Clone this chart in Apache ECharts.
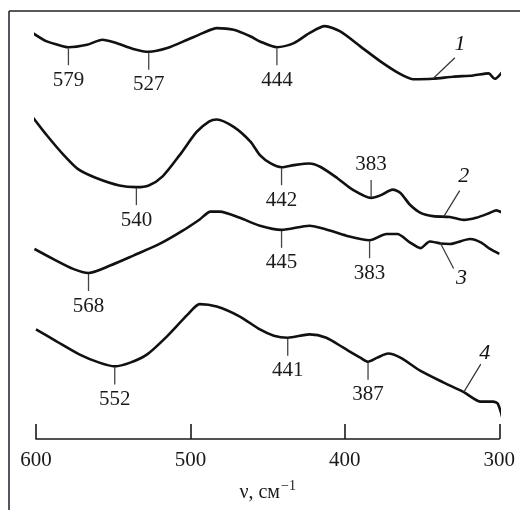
<!DOCTYPE html>
<html>
<head>
<meta charset="utf-8">
<script src="https://cdn.jsdelivr.net/npm/echarts@6/dist/echarts.min.js"></script>
<style>
html,body{margin:0;padding:0;background:#fff;}
#c{width:520px;height:510px;}
</style>
</head>
<body>
<div id="c"></div>
<script>
// wavenumbers (cm^-1) and relative transmittance (arbitrary units, curves offset)
const nu1 = [602,593,582,579,567,557,548,537,527,515,502,492,483,472,461,455,444,433,423,413,403,390,377,364,356,343,330,317,307,303,296];
const t1  = [97.8,95.8,94.6,94.4,95.0,96.2,95.4,94.0,93.3,94.2,96.2,97.8,99.0,98.6,97.0,95.8,94.4,95.4,97.8,99.5,98.2,94.6,91.0,87.9,86.7,86.8,87.3,87.6,88.1,86.8,89.5];

const nu2 = [602,593,582,573,561,546,535,527,518,507,496,488,483,472,461,455,448,441,433,423,416,405,395,383,377,369,364,358,351,343,332,323,315,306,302,296];
const t2  = [77.5,73.2,68.4,65.1,62.9,61.1,60.7,61.1,63.3,68.4,74.0,76.5,77.0,75.2,71.6,68.4,66.4,65.5,66.0,66.4,65.6,62.9,60.1,58.1,58.7,60.1,59.3,56.5,54.5,53.7,53.5,52.8,53.3,54.5,55.1,54.1];

const nu3 = [601,589,576,566,552,537,520,505,494,487,481,468,455,441,423,412,399,384,373,366,358,351,345,338,332,319,312,306,300];
const t3  = [45.8,43.4,41.0,40.0,41.8,44.2,47.0,50.2,52.9,54.8,54.8,53.3,51.4,50.4,51.4,50.5,49.0,47.9,49.4,49.4,47.4,46.0,47.6,47.1,47.0,48.2,47.4,45.8,44.6];

const nu4 = [600,587,572,559,549,539,528,515,502,494,483,468,455,446,437,423,412,401,390,385,379,372,364,351,336,323,312,304,301,298];
const t4  = [26.4,23.6,20.4,18.4,17.5,18.4,20.4,24.8,29.9,32.5,31.9,29.5,26.4,24.9,24.4,25.2,24.4,22.0,19.6,18.6,19.6,20.6,19.6,16.4,13.6,11.3,9.0,9.0,8.5,5.1];

const xTicks = [600, 500, 400, 300];

// band annotations: curve index, wavenumber where mark is drawn, printed text, side (1 below, -1 above)
const annCurve = [0,0,0,1,1,1,2,2,2,3,3,3];
const annNu    = [579,527,444,535,441,383,566,441,384,549,437,385];
const annText  = ['579','527','444','540','442','383','568','445','383','552','441','387'];
const annSide  = [1,1,1,1,1,-1,1,1,1,1,1,1];

// curve numbers and where their leader lines touch the curve
const curveNames = ['1','2','3','4'];
const curveLabelNu = [343, 336, 338, 323];

const NU = [nu1, nu2, nu3, nu4];
const T  = [t1, t2, t3, t4];

function valueAt(ci, nu) {
  const xs = NU[ci], ys = T[ci];
  for (let i = 0; i < xs.length; i++) if (xs[i] === nu) return ys[i];
  for (let i = 0; i < xs.length - 1; i++) {
    if ((xs[i] - nu) * (xs[i+1] - nu) <= 0) {
      const f = (nu - xs[i]) / (xs[i+1] - xs[i]);
      return ys[i] + f * (ys[i+1] - ys[i]);
    }
  }
  return ys[ys.length - 1];
}

const FONT = '"Liberation Serif", "DejaVu Serif", serif';

const chart = echarts.init(document.getElementById('c'), null, {renderer: 'canvas'});

const lineSeries = NU.map((xs, ci) => ({
  type: 'line',
  data: xs.map((x, i) => [x, T[ci][i]]),
  showSymbol: false,
  smooth: 0.25,
  clip: false,
  silent: true,
  lineStyle: {color: '#111', width: 2.6},
  z: 3
}));

const annSeries = {
  type: 'custom',
  clip: false,
  silent: true,
  data: annNu.map((n, i) => [n, valueAt(annCurve[i], n)]),
  renderItem: function (params, api) {
    const i = params.dataIndex;
    const p = api.coord([api.value(0), api.value(1)]);
    const s = annSide[i];
    const len = 18;
    return {
      type: 'group',
      children: [
        {type: 'line', shape: {x1: p[0], y1: p[1] + s * 1, x2: p[0], y2: p[1] + s * len},
         style: {stroke: '#444', lineWidth: 1.3}},
        {type: 'text', x: p[0], y: p[1] + s * (len + 15),
         style: {text: annText[i], fill: '#1a1a1a', font: '21px ' + FONT, align: 'center', verticalAlign: 'middle'}}
      ]
    };
  },
  z: 4
};

// leader geometry per curve label (pixel offsets: line end, text offset)
const leader = [[22,-21,5,-14],[16,-26,4,-14],[13,25,8,10],[17,-28,4,-11]];
const nameSeries = {
  type: 'custom',
  clip: false,
  silent: true,
  data: curveLabelNu.map((n, i) => [n, valueAt(i, n)]),
  renderItem: function (params, api) {
    const i = params.dataIndex;
    const p = api.coord([api.value(0), api.value(1)]);
    const g = leader[i];
    const ex = p[0] + g[0], ey = p[1] + g[1];
    return {
      type: 'group',
      children: [
        {type: 'line', shape: {x1: p[0], y1: p[1], x2: ex, y2: ey}, style: {stroke: '#333', lineWidth: 1.2}},
        {type: 'text', x: ex + g[2], y: ey + g[3],
         style: {text: curveNames[i], fill: '#111', font: 'italic 22px ' + FONT, align: 'center', verticalAlign: 'middle'}}
      ]
    };
  },
  z: 4
};

chart.setOption({
  animation: false,
  backgroundColor: '#ffffff',
  grid: {left: 36, right: 20.7, top: 24, bottom: 66, containLabel: false},
  xAxis: {
    type: 'value',
    min: 300, max: 600, interval: 100,
    inverse: true,
    axisLine: {show: true, lineStyle: {color: '#1a1a1a', width: 1.6}},
    axisTick: {show: true, inside: true, length: 15, lineStyle: {color: '#1a1a1a', width: 1.6}},
    splitLine: {show: false},
    axisLabel: {
      margin: 11, color: '#1a1a1a', fontSize: 21, fontFamily: FONT,
      formatter: v => xTicks.indexOf(v) >= 0 ? String(v) : ''
    },
    name: '{a|ν, см}{s|−1}',
    nameLocation: 'middle',
    nameGap: 40,
    nameTextStyle: {
      rich: {
        a: {fontSize: 20, fontFamily: FONT, color: '#1a1a1a', verticalAlign: 'bottom', lineHeight: 24},
        s: {fontSize: 14, fontFamily: FONT, color: '#1a1a1a', verticalAlign: 'top', lineHeight: 24, padding: [0, 0, 12, 1]}
      }
    }
  },
  yAxis: {type: 'value', min: 0, max: 100, show: false},
  graphic: [
    {type: 'line', shape: {x1: 9, y1: 11, x2: 520, y2: 11}, style: {stroke: '#222', lineWidth: 1.6}},
    {type: 'line', shape: {x1: 9, y1: 11, x2: 9, y2: 510}, style: {stroke: '#2a2a3a', lineWidth: 1.6}}
  ],
  series: [...lineSeries, annSeries, nameSeries]
});
</script>
</body>
</html>
